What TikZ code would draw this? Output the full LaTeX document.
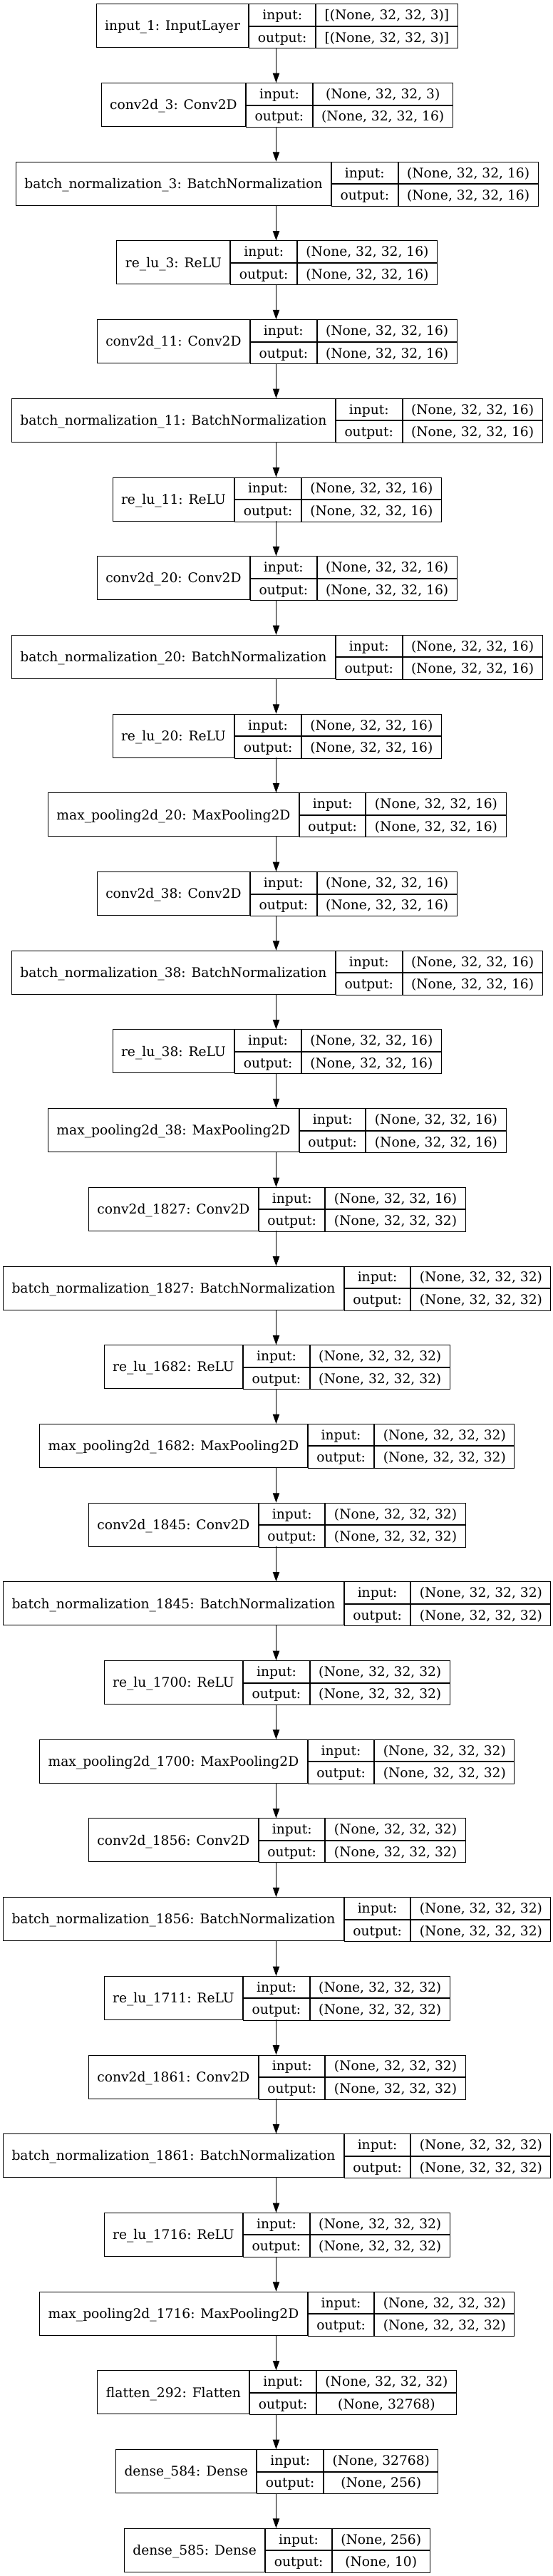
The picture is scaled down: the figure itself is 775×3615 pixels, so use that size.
\documentclass[tikz,border=0pt]{standalone}
\usepackage{fontspec}
\setmainfont{DejaVu Serif}
\usetikzlibrary{arrows.meta}
\newlength\wA \newlength\wB \newlength\wC \newlength\wT
\newcommand\recfont{\fontsize{14bp}{16.8bp}\selectfont}
\tikzset{
 field/.style={draw=black, line width=0.75bp, inner sep=0pt, font=\recfont,
   anchor=north west, text height=12.5bp, text depth=2.5bp},
 recbox/.style={inner sep=0pt, minimum height=45.75bp},
 flow/.style={-{Triangle[length=10bp,width=7bp]}, line width=0.75bp, black},
}
\newcommand\rec[5]{%
 \pgfinterruptpicture
  \settowidth\wA{\recfont #3}\global\wA=\wA
  \settowidth\wB{\recfont output:}\global\wB=\wB
  \settowidth\wC{\recfont #4}\settowidth\wT{\recfont #5}%
  \ifdim\wT>\wC \global\wC=\wT \else \global\wC=\wC \fi
 \endpgfinterruptpicture
 \advance\wA by 18bp
 \advance\wB by 18bp
 \advance\wC by 18bp
 \wT=\wA \advance\wT by \wB \advance\wT by \wC
 \pgfmathsetmacro\ytop{5.33+#2*110.7}%
 \node[recbox, minimum width=\wT, anchor=north] (#1) at (387.5,\ytop) {};
 \node[field, minimum width=\wA, minimum height=45.75bp] (#1-l) at (#1.north west) {#3};
 \node[field, minimum width=\wB, minimum height=22.875bp] (#1-ik) at (#1-l.north east) {input:};
 \node[field, minimum width=\wB, minimum height=22.875bp] (#1-ok) at (#1-ik.south west) {output:};
 \node[field, minimum width=\wC, minimum height=22.875bp] (#1-iv) at (#1-ik.north east) {#4};
 \node[field, minimum width=\wC, minimum height=22.875bp] (#1-ov) at (#1-iv.south west) {#5};
}
\begin{document}
\begin{tikzpicture}[x=0.75bp,y=-0.75bp]
\fill[white] (0,0) rectangle (775,3615);
\useasboundingbox (0,0) rectangle (775,3615);
\def\sa{(None, 32, 32, 16)}
\def\sb{(None, 32, 32, 32)}
\rec{n0}{0}{input\_1: InputLayer}{[(None, 32, 32, 3)]}{[(None, 32, 32, 3)]}
\rec{n1}{1}{conv2d\_3: Conv2D}{(None, 32, 32, 3)}{(None, 32, 32, 16)}
\rec{n2}{2}{batch\_normalization\_3: BatchNormalization}{\sa}{\sa}
\rec{n3}{3}{re\_lu\_3: ReLU}{\sa}{\sa}
\rec{n4}{4}{conv2d\_11: Conv2D}{\sa}{\sa}
\rec{n5}{5}{batch\_normalization\_11: BatchNormalization}{\sa}{\sa}
\rec{n6}{6}{re\_lu\_11: ReLU}{\sa}{\sa}
\rec{n7}{7}{conv2d\_20: Conv2D}{\sa}{\sa}
\rec{n8}{8}{batch\_normalization\_20: BatchNormalization}{\sa}{\sa}
\rec{n9}{9}{re\_lu\_20: ReLU}{\sa}{\sa}
\rec{n10}{10}{max\_pooling2d\_20: MaxPooling2D}{\sa}{\sa}
\rec{n11}{11}{conv2d\_38: Conv2D}{\sa}{\sa}
\rec{n12}{12}{batch\_normalization\_38: BatchNormalization}{\sa}{\sa}
\rec{n13}{13}{re\_lu\_38: ReLU}{\sa}{\sa}
\rec{n14}{14}{max\_pooling2d\_38: MaxPooling2D}{\sa}{\sa}
\rec{n15}{15}{conv2d\_1827: Conv2D}{\sa}{\sb}
\rec{n16}{16}{batch\_normalization\_1827: BatchNormalization}{\sb}{\sb}
\rec{n17}{17}{re\_lu\_1682: ReLU}{\sb}{\sb}
\rec{n18}{18}{max\_pooling2d\_1682: MaxPooling2D}{\sb}{\sb}
\rec{n19}{19}{conv2d\_1845: Conv2D}{\sb}{\sb}
\rec{n20}{20}{batch\_normalization\_1845: BatchNormalization}{\sb}{\sb}
\rec{n21}{21}{re\_lu\_1700: ReLU}{\sb}{\sb}
\rec{n22}{22}{max\_pooling2d\_1700: MaxPooling2D}{\sb}{\sb}
\rec{n23}{23}{conv2d\_1856: Conv2D}{\sb}{\sb}
\rec{n24}{24}{batch\_normalization\_1856: BatchNormalization}{\sb}{\sb}
\rec{n25}{25}{re\_lu\_1711: ReLU}{\sb}{\sb}
\rec{n26}{26}{conv2d\_1861: Conv2D}{\sb}{\sb}
\rec{n27}{27}{batch\_normalization\_1861: BatchNormalization}{\sb}{\sb}
\rec{n28}{28}{re\_lu\_1716: ReLU}{\sb}{\sb}
\rec{n29}{29}{max\_pooling2d\_1716: MaxPooling2D}{\sb}{\sb}
\rec{n30}{30}{flatten\_292: Flatten}{\sb}{(None, 32768)}
\rec{n31}{31}{dense\_584: Dense}{(None, 32768)}{(None, 256)}
\rec{n32}{32}{dense\_585: Dense}{(None, 256)}{(None, 10)}
\foreach \a [evaluate=\a as \b using int(\a+1)] in {0,...,31}
  \draw[flow] (n\a.south) -- (n\b.north);
\end{tikzpicture}
\end{document}
